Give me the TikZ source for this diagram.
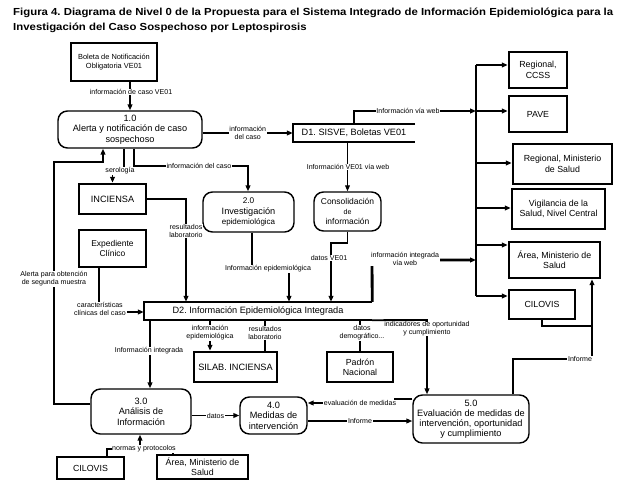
\documentclass[tikz,border=0pt]{standalone}
\usepackage{fontspec}
\setmainfont{Liberation Sans}
\usetikzlibrary{arrows.meta,calc}
\newlength\ttlw
\newcommand\mkbox[7]{\node[#6, minimum width={(#4-#2)*0.85pt}, minimum height={(#5-#3)*0.85pt}] (#1) at ({(#2+#4)/2},{(#3+#5)/2}) {#7};}
\newcommand\ttlA{Figura 4. Diagrama de Nivel 0 de la Propuesta para el Sistema Integrado de Información Epidemiológica para la}
\newcommand\ttlB{Investigación del Caso Sospechoso por Leptospirosis}
\begin{document}
\frenchspacing
\settowidth\ttlw{\bfseries\fontsize{8.7}{12}\selectfont\ttlA}
\pgfmathsetmacro\ttlsc{510/\ttlw}
\begin{tikzpicture}[x=0.85pt,y=-0.85pt,
  conn/.style={line width=1.6pt},
  heavy/.style={line width=2.4pt},
  thinconn/.style={line width=0.9pt},
  arr/.style={-{Triangle[length=5pt,width=4pt]}},
  ext/.style={draw, line width=2.2pt, inner sep=0pt, align=center, font=\fontsize{7.5}{8.8}\selectfont},
  proc/.style={draw, line width=1.2pt, rounded corners=8pt, inner sep=0pt, align=center, font=\fontsize{7.8}{9}\selectfont},
  store/.style={inner sep=0pt, align=center, font=\fontsize{7.8}{9}\selectfont},
  lbl/.style={fill=white, inner sep=0.6pt, align=center, font=\fontsize{6}{6.9}\selectfont},
  ttl/.style={anchor=base west, inner sep=0pt, font=\bfseries\fontsize{8.7}{12}\selectfont},
]
\useasboundingbox (0,0) rectangle (627,492);
\fill[white] (0,0) rectangle (627,492);

% title
\node[ttl] (t1) at (13,16) {\scalebox{\ttlsc}[1]{\ttlA}};
\node[ttl] (t2) at (13,31) {\scalebox{\ttlsc}[1]{\ttlB}};

% external entities
\mkbox{boleta}{71}{43}{157}{81}{ext, font=\fontsize{6.3}{8.4}\selectfont}{Boleta de Notificación\\Obligatoria VE01}
\mkbox{inciensa}{79}{184}{146}{214}{ext, font=\fontsize{7.8}{9}\selectfont}{INCIENSA}
\mkbox{expediente}{79}{230}{146}{267}{ext, font=\fontsize{7.2}{9}\selectfont}{Expediente\\Clínico}
\mkbox{silab}{194}{352}{277}{382}{ext, font=\fontsize{7.8}{9}\selectfont}{SILAB. INCIENSA}
\mkbox{padron}{327}{352}{393}{382}{ext}{Padrón\\Nacional}
\mkbox{cilovisB}{57}{457}{124}{479}{ext}{CILOVIS}
\mkbox{areaB}{157}{455}{248}{479}{ext}{Área, Ministerio de\\Salud}
\mkbox{regccss}{509}{52}{567}{88}{ext}{Regional,\\CCSS}
\mkbox{pave}{509}{96}{567}{132}{ext}{PAVE}
\mkbox{regmin}{513}{144}{612}{184}{ext}{Regional, Ministerio\\de Salud}
\mkbox{vig}{512}{189}{605}{229}{ext}{Vigilancia de la\\Salud, Nivel Central}
\mkbox{areaR}{509}{242}{600}{278}{ext}{Área, Ministerio de\\Salud}
\mkbox{cilovisR}{509}{290}{575}{319}{ext}{CILOVIS}

% processes
\mkbox{p1}{58}{111}{202}{148}{proc}{1.0\\Alerta y notificación de caso\\sospechoso}
\mkbox{p2}{203}{192}{294}{232}{proc}{{\fontsize{7}{8}\selectfont 2.0}\\Investigación\\{\fontsize{6.8}{8}\selectfont epidemiológica}}
\mkbox{cons}{314}{192}{381}{231}{proc, font=\fontsize{7.2}{8.8}\selectfont}{Consolidación\\{\fontsize{6}{8}\selectfont de}\\información}
\mkbox{p3}{91}{389}{191}{434}{proc}{3.0\\Análisis de\\Información}
\mkbox{p4}{240}{397}{307}{434}{proc}{4.0\\Medidas de\\intervención}
\mkbox{p5}{413}{395}{529}{443}{proc, font=\fontsize{7.8}{8.6}\selectfont}{5.0\\Evaluación de medidas de\\intervención, oportunidad\\y cumplimiento}

% data stores
\mkbox{d1}{293}{124}{415}{142}{store}{D1. SISVE, Boletas VE01}
\mkbox{d2}{144}{302}{372}{320}{store}{D2. Información Epidemiológica Integrada}
\draw[line width=1.6pt] (d1.north east) -- (d1.north west) -- (d1.south west) -- (d1.south east);
\draw[line width=1.6pt] (d2.north east) -- (d2.north west) -- (d2.south west) -- (d2.south east);

% bus on the right
\coordinate (busT) at (476,65);
\coordinate (busB) at (476,296);
\draw[conn] (busT) -- (busB);
\foreach \n/\y in {regccss/65, pave/111, regmin/163, vig/208, areaR/245, cilovisR/296}
  \draw[conn,arr] (476,\y) -- (\n.west |- 0,\y);

% connectors
\draw[conn,arr] (boleta.south -| 130,0) -- (p1.north -| 130,0);
\node[lbl] at (131,92) {información de caso VE01};

\draw[conn,arr] (p1.east |- d1.west) -- node[lbl]{información\\del caso} (d1.west);

\draw[conn,arr] (p3.west |- 0,404) -- (54,404) -- (54,162) -- (103,162) -- (p1.south -| 103,0);
\node[lbl] at (54,279) {Alerta para obtención\\de segunda muestra};

\draw[conn,arr] (p1.south -| 124,0) -- (124,171) -- (112.5,171) -- (inciensa.north);
\node[lbl] at (120,171) {serología};

\draw[conn,arr] (p1.south -| 134,0) -- (134,166) -- (248,166) -- (p2.north -| 248,0);
\node[lbl] at (199,166) {información del caso};

\draw[heavy,arr] (inciensa.east) -- (186,199) -- (d2.north -| 186,0);
\node[lbl] at (186,231) {resultados\\laboratorio};

\draw[heavy,arr] (expediente.south -| 99,0) -- (99,312) -- (d2.west |- 0,312);
\node[lbl] at (100,309) {características\\clínicas del caso};

\draw[conn,arr] (p2.south -| 252,0) -- (252,269) -- (289,269) -- (d2.north -| 289,0);
\node[lbl] at (268,269) {Información epidemiológica};

\draw[thinconn,arr] (d1.south -| cons.north) -- (cons.north);
\node[lbl] at (348,167) {Información VE01 vía web};

\draw[conn,arr] (cons.south) -- (347.5,243) -- (331,243) -- (d2.north -| 331,0);
\node[lbl] at (329,258) {datos VE01};

\draw[conn,arr] (d1.north -| 354,0) -- (354,111) -- (476,111);
\node[lbl] at (408,111) {Información vía web};

\draw[heavy,arr] (d2.north east) -- (372,260) -- (476,260);
\node[lbl] at (405,259) {información integrada\\vía web};

\draw[conn,arr] (d2.south -| 150,0) -- (p3.north -| 150,0);
\node[lbl] at (149,351) {Información integrada};

\draw[conn,arr] (d2.south -| 210,0) -- (silab.north -| 210,0);
\node[lbl] at (210,333) {información\\epidemiológica};
\draw[conn] (silab.north -| 265,0) -- (d2.south -| 265,0);
\node[lbl] at (265,333) {resultados\\laboratorio};

\draw[conn] (padron.north) -- (d2.south -| padron.north);
\node[lbl] at (362,333) {datos\\demográfico...};

\draw[conn,arr] (d2.south east) -- (427,320) -- (p5.north -| 427,0);
\node[lbl, inner sep=0pt] at (427,329) {indicadores de oportunidad\\y cumplimiento};

\draw[conn,arr] (p3.east |- p4.west) -- node[lbl]{datos} (p4.west);

\draw[conn,arr] (p5.west |- 0,399) -- (395,399) -- (395,403) -- (p4.east |- 0,403);
\node[lbl] at (360,403) {evaluación de medidas};

\draw[conn,arr] (p4.east |- 0,421) -- (p5.west |- 0,421);
\node[lbl] at (360,421) {Informe};

\draw[heavy,arr] (p5.north -| 513,0) -- (513,359) -- (592,359) -- (areaR.south -| 592,0);
\node[lbl] at (580,359) {Informe};
\draw[conn] (cilovisR.south -| 542,0) -- (542,326) -- (592,326);

\draw[conn,arr] (140,449) -- (p3.south -| 140,0);
\draw[conn] (cilovisB.north -| 107,0) -- (107,449) -- (173,449) -- (areaB.north -| 173,0);
\node[lbl] at (144,449) {normas y protocolos};
\end{tikzpicture}
\end{document}
